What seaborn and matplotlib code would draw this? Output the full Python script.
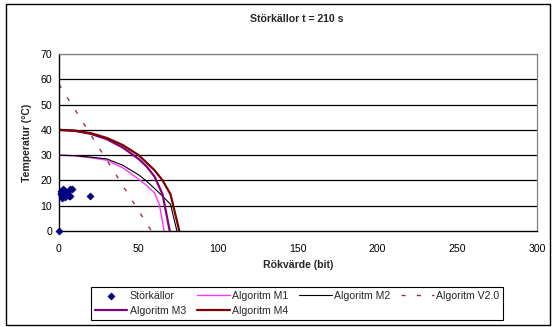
import matplotlib
matplotlib.use("Agg")
import matplotlib.pyplot as plt
import matplotlib.patches as mpatches
import seaborn as sns

# ---- data ----
stor_x = [0, 1, 1.5, 2, 2, 2.5, 3, 3, 4, 4, 5, 6, 7, 7, 8, 1, 3.5, 19.5]
stor_y = [0, 16, 15, 14, 13, 16.5, 15.5, 14.5, 16, 14, 15, 14, 16.5, 14, 16.5, 14.5, 13.5, 14]

m1_x = [0, 10, 20, 30, 40, 50, 55, 60, 63, 66]
m1_y = [30, 29.7, 29, 28, 25, 20.5, 18, 15, 10.5, 0]

m2_x = [0, 10, 20, 30, 40, 50, 55, 60, 65, 70, 74]
m2_y = [30, 29.8, 29.2, 28.5, 26, 22.2, 19.7, 16.8, 13.8, 10.5, 0]

v2_x = [0, 58]
v2_y = [58, 0]

m3_x = [0, 10, 20, 30, 40, 50, 55, 60, 65, 69.5]
m3_y = [40, 39.6, 38.4, 36.3, 33, 28.5, 25.5, 21.5, 14.5, 0]

m4_x = [0, 10, 20, 30, 40, 50, 55, 60, 65, 70, 75.5]
m4_y = [40, 39.7, 38.7, 36.8, 34, 30, 27, 24, 20, 14.5, 0]

x_ticks = [0, 50, 100, 150, 200, 250, 300]
y_ticks = [0, 10, 20, 30, 40, 50, 60, 70]

# ---- style ----
sns.set_style("white")
plt.rcParams['font.family'] = ['Liberation Sans', 'DejaVu Sans']
fs = 7.6

fig = plt.figure(figsize=(5.52, 3.27), dpi=100)
ax = fig.add_axes([59/552, 1 - 231/327, (537-59)/552, (231-54)/327])

# gridlines
for yv in y_ticks[1:]:
    ax.axhline(yv, color='black' if yv < 70 else '#808080', lw=0.9, zorder=0)

sns.scatterplot(x=stor_x, y=stor_y, ax=ax, marker='D', s=14, color='#000080',
                edgecolor='#000080', linewidth=0.3, label='Störkällor', zorder=5,
                clip_on=False)
sns.lineplot(x=m1_x, y=m1_y, ax=ax, color='#FF33FF', lw=1.0, sort=False,
             estimator=None, label='Algoritm M1')
sns.lineplot(x=m2_x, y=m2_y, ax=ax, color='black', lw=0.8, sort=False,
             estimator=None, label='Algoritm M2')
sns.lineplot(x=v2_x, y=v2_y, ax=ax, color='#A0303A', lw=1.0, sort=False,
             estimator=None, label='Algoritm V2.0')
ax.get_lines()[-1].set_dashes((3, 8))
sns.lineplot(x=m3_x, y=m3_y, ax=ax, color='#800080', lw=1.6, sort=False,
             estimator=None, label='Algoritm M3')
sns.lineplot(x=m4_x, y=m4_y, ax=ax, color='#800000', lw=1.6, sort=False,
             estimator=None, label='Algoritm M4')

ax.set_xlim(0, 300)
ax.set_ylim(0, 70)
ax.set_xticks(x_ticks)
ax.set_yticks(y_ticks)
ax.tick_params(axis='both', labelsize=fs, length=3, width=0.8, direction='out',
               colors='black', pad=2)
ax.tick_params(axis='x', pad=6)
for s in ['left', 'bottom']:
    ax.spines[s].set_color('black')
    ax.spines[s].set_linewidth(1.0)
for s in ['top', 'right']:
    ax.spines[s].set_color('#808080')
    ax.spines[s].set_linewidth(0.9)

ax.set_xlabel('Rökvärde (bit)', fontsize=fs, fontweight='bold', labelpad=5)
ax.set_ylabel('Temperatur (°C)', fontsize=fs, fontweight='bold', labelpad=6)
fig.text(297/552, 1 - 19/327, 'Störkällor t = 210 s', fontsize=fs,
         fontweight='bold', ha='center', va='center')

handles, labels = ax.get_legend_handles_labels()
order = ['Störkällor', 'Algoritm M3', 'Algoritm M1', 'Algoritm M4',
         'Algoritm M2', 'Algoritm V2.0']
hmap = dict(zip(labels, handles))
ax.legend([hmap[k] for k in order], order, ncol=4, loc='center',
          bbox_to_anchor=(297/552, 1 - 303.5/327), bbox_transform=fig.transFigure,
          fontsize=fs, frameon=True, fancybox=False, edgecolor='black',
          handlelength=3.1, handletextpad=0.2, columnspacing=1.05,
          labelspacing=0.5, borderpad=0.4, framealpha=1)
ax.get_legend().get_frame().set_linewidth(0.8)

fig.patches.append(mpatches.Rectangle((6/552, 1 - 325/327), 544/552, 321/327,
                                      transform=fig.transFigure, fill=False,
                                      edgecolor='black', lw=1.0))

fig.savefig('out.png', dpi=100)
